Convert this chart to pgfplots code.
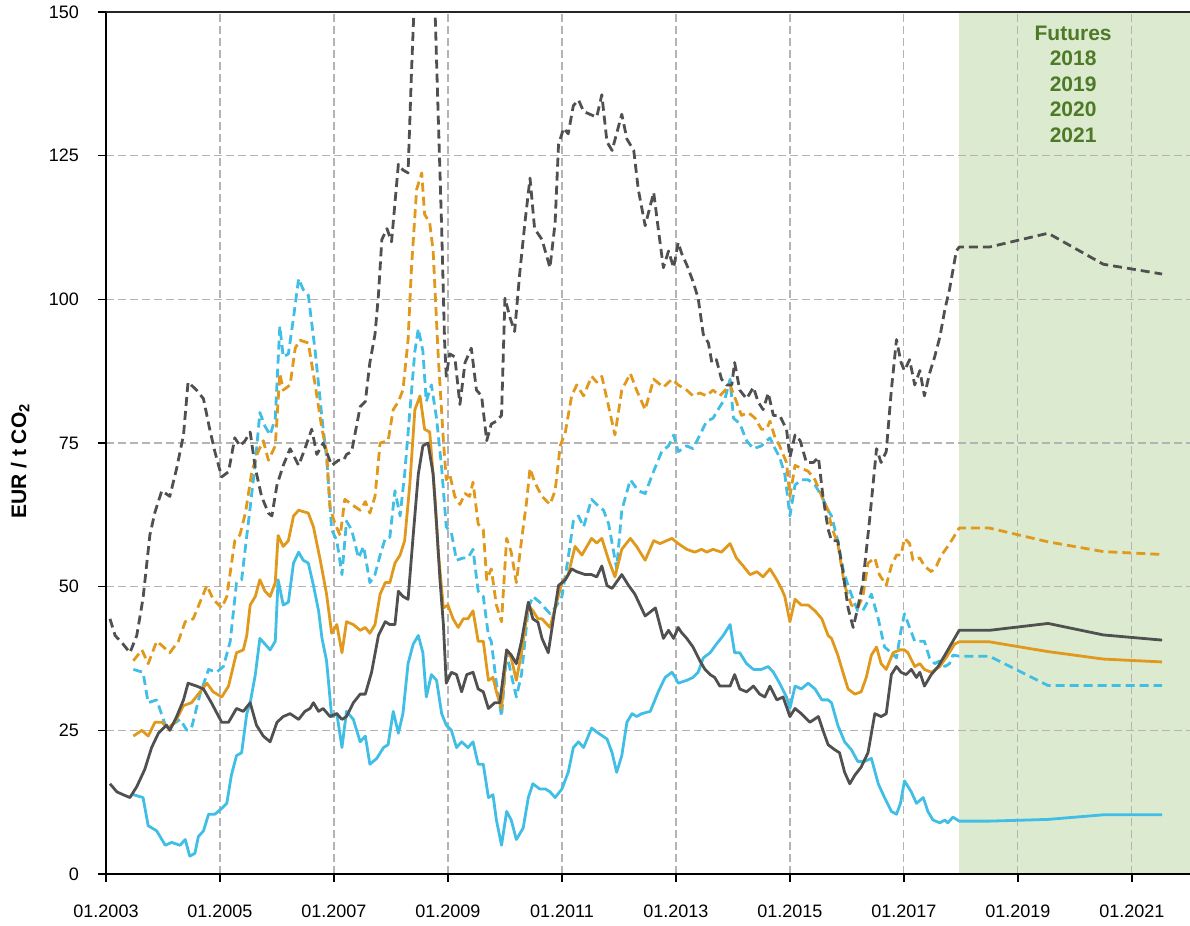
\documentclass[border=0pt]{standalone}
\usepackage{fontspec}
\setmainfont{Liberation Sans}
\usepackage{pgfplots}
\pgfplotsset{compat=1.18}
\definecolor{cgray}{HTML}{505050}
\definecolor{corange}{HTML}{E0991C}
\definecolor{ccyan}{HTML}{40BEE6}
\definecolor{band}{HTML}{DCEBD0}
\definecolor{ftext}{HTML}{4E7A27}
\definecolor{gridc}{HTML}{B4B4B4}
\begin{document}
\begin{tikzpicture}
\begin{axis}[
 set layers,
 clip mode=individual,
 scale only axis,
 width=542pt, height=431pt,
 xmin=2003, xmax=2022.02, ymin=0, ymax=150,
 axis x line*=bottom, axis y line*=left,
 axis line style={line width=1pt, black},
 xtick={2003,2005,...,2021},
 xticklabels={01.2003,01.2005,01.2007,01.2009,01.2011,01.2013,01.2015,01.2017,01.2019,01.2021},
 ytick={0,25,...,150},
 tick align=outside,
 major tick length=4pt,
 tick style={black, line width=0.8pt},
 grid=major,
 major grid style={gridc, line width=0.6pt, dash pattern=on 4pt off 2pt},
 /pgf/number format/assume math mode=true,
 ticklabel style={font=\fontsize{9}{10}\selectfont},
 yticklabel style={xshift=-6pt},
 xticklabel style={yshift=-8pt},
 ylabel={EUR / t CO\textsubscript{2}},
 ylabel style={at={(axis description cs:-0.0793,0.479)}, anchor=center, rotate=0, font=\bfseries\fontsize{10.5}{12}\selectfont},
 every axis plot/.append style={line width=1.4pt, line join=round},
 dsh/.style={dash pattern=on 4.5pt off 2.5pt},
]
\addplot[fill=band, draw=none, on layer=axis background, line width=0pt] coordinates {(2017.965,150)(2022.02,150)} \closedcycle;

% cyan solid
\addplot[ccyan] coordinates {(2003.48,13.8)(2003.65,13.3)(2003.74,8.4)(2003.89,7.5)(2004.04,5)(2004.15,5.5)(2004.30,5)(2004.39,6)(2004.47,3.1)(2004.56,3.6)(2004.62,6.5)(2004.71,7.5)(2004.80,10.4)(2004.91,10.4)(2005.03,11.4)(2005.12,12.3)(2005.20,17.2)(2005.29,20.6)(2005.38,21.1)(2005.47,27.9)(2005.53,29.8)(2005.62,34.7)(2005.70,41)(2005.79,40)(2005.88,39)(2005.97,40.5)(2006.02,51.2)(2006.11,46.8)(2006.20,47.3)(2006.29,54.1)(2006.38,56)(2006.46,54.6)(2006.55,54.1)(2006.64,50.2)(2006.73,45.8)(2006.79,41)(2006.87,37.1)(2006.96,27.4)(2007.05,27.9)(2007.14,22)(2007.22,28.3)(2007.34,26.9)(2007.46,23)(2007.55,24)(2007.63,19.1)(2007.75,20.1)(2007.87,22)(2007.95,22.5)(2008.04,28.3)(2008.13,24.5)(2008.21,27.9)(2008.30,36.6)(2008.39,40)(2008.48,41.5)(2008.56,38.5)(2008.62,30.8)(2008.71,34.7)(2008.80,33.7)(2008.89,27.9)(2008.97,25.9)(2009.06,25)(2009.15,22)(2009.24,23)(2009.35,22)(2009.44,23)(2009.53,19.1)(2009.62,19.1)(2009.71,13.3)(2009.79,13.8)(2009.85,9.4)(2009.94,5)(2010.03,10.9)(2010.11,9.4)(2010.20,6)(2010.32,8)(2010.41,13.3)(2010.49,15.7)(2010.61,14.8)(2010.71,14.8)(2010.79,14.3)(2010.88,13.3)(2011.00,14.8)(2011.11,17.7)(2011.20,22)(2011.29,23)(2011.38,22)(2011.52,25.4)(2011.64,24.5)(2011.79,23.5)(2011.88,21.1)(2011.96,17.7)(2012.05,20.6)(2012.14,26.4)(2012.23,27.9)(2012.31,27.4)(2012.40,27.9)(2012.55,28.3)(2012.69,31.7)(2012.81,34.2)(2012.93,35.1)(2012.99,34.2)(2013.04,33.2)(2013.19,33.7)(2013.30,34.2)(2013.39,35.1)(2013.48,37.6)(2013.60,38.5)(2013.71,40)(2013.83,41.5)(2013.95,43.4)(2014.03,38.5)(2014.12,38.5)(2014.24,36.6)(2014.36,35.6)(2014.50,35.6)(2014.62,36.1)(2014.71,35.1)(2014.82,33.2)(2014.94,30.8)(2015.00,28.8)(2015.09,32.7)(2015.20,32.2)(2015.32,33.2)(2015.44,32.2)(2015.56,30.3)(2015.67,30.3)(2015.73,29.8)(2015.84,25.9)(2015.96,23)(2016.08,21.6)(2016.19,19.6)(2016.31,19.6)(2016.43,20.1)(2016.55,15.7)(2016.66,13.3)(2016.78,10.9)(2016.87,10.4)(2016.94,12.3)(2017.01,16.2)(2017.13,14.3)(2017.22,12.3)(2017.34,13.3)(2017.42,10.9)(2017.51,9.4)(2017.63,8.9)(2017.72,9.4)(2017.77,8.9)(2017.86,9.9)(2017.97,9.2)(2018.5,9.2)(2019.53,9.5)(2020.5,10.3)(2021.53,10.3)};

% cyan dashed
\addplot[ccyan, dsh] coordinates {(2003.48,35.6)(2003.65,35.1)(2003.74,29.8)(2003.89,30.3)(2004.04,25.9)(2004.15,25.9)(2004.30,26.9)(2004.42,25)(2004.50,25.4)(2004.65,31.3)(2004.80,35.6)(2004.94,35.1)(2005.06,36.1)(2005.18,40.5)(2005.29,50.7)(2005.38,51.2)(2005.46,58)(2005.53,63.8)(2005.62,71.6)(2005.70,80.3)(2005.79,77.9)(2005.88,76.4)(2005.97,79.3)(2006.05,95.3)(2006.11,90)(2006.20,90.5)(2006.29,96.8)(2006.38,103.6)(2006.46,101.7)(2006.55,100.7)(2006.67,91)(2006.79,79.3)(2006.87,72.5)(2006.96,59.9)(2007.05,58)(2007.14,52.1)(2007.22,61.4)(2007.31,59.9)(2007.43,55)(2007.52,57)(2007.63,50.7)(2007.72,52.1)(2007.81,55.5)(2007.90,58.4)(2007.98,58.6)(2008.07,66.7)(2008.16,62.3)(2008.24,69.6)(2008.33,80.3)(2008.42,91)(2008.48,94.9)(2008.56,91)(2008.62,82.2)(2008.71,85.1)(2008.80,79.3)(2008.89,70.6)(2008.97,60.4)(2009.06,59.4)(2009.15,54.6)(2009.27,55)(2009.35,55)(2009.44,56.5)(2009.53,49.2)(2009.62,48.3)(2009.71,41.5)(2009.76,40.5)(2009.85,33.2)(2009.94,27.4)(2010.03,38.5)(2010.11,34.7)(2010.20,30.8)(2010.29,34.7)(2010.41,46.3)(2010.49,48.3)(2010.61,47.3)(2010.79,45.3)(2010.88,46.3)(2011.00,48.3)(2011.11,55)(2011.20,61.4)(2011.29,62.3)(2011.38,60.4)(2011.52,65.2)(2011.61,64.3)(2011.73,63.3)(2011.82,60.9)(2011.96,53.1)(2012.05,63.3)(2012.20,68.6)(2012.34,66.7)(2012.46,66.2)(2012.61,70.1)(2012.75,73.5)(2012.87,74.5)(2012.96,76.4)(2013.04,73.5)(2013.19,74.5)(2013.30,74)(2013.42,76.4)(2013.54,78.8)(2013.65,79.3)(2013.77,81.3)(2013.86,82.7)(2013.95,86.1)(2014.01,79.3)(2014.12,78.4)(2014.24,75.4)(2014.36,74)(2014.50,74.5)(2014.65,75.9)(2014.74,74)(2014.82,72.5)(2014.91,69.6)(2015.00,62.3)(2015.09,67.7)(2015.20,68.6)(2015.32,68.6)(2015.44,67.7)(2015.56,65.7)(2015.67,63.3)(2015.73,62.3)(2015.84,58)(2015.93,53.1)(2016.02,50.2)(2016.11,47.8)(2016.19,45.8)(2016.28,45.8)(2016.43,48.7)(2016.55,44.4)(2016.66,39.5)(2016.78,38.5)(2016.87,37.6)(2016.95,42.4)(2017.01,45.3)(2017.10,42.9)(2017.19,40.5)(2017.28,40.5)(2017.36,40.5)(2017.45,37.6)(2017.54,36.6)(2017.63,37.1)(2017.72,36.1)(2017.80,36.6)(2017.86,38.1)(2017.97,37.9)(2018.5,37.9)(2019.53,32.8)(2020.5,32.8)(2021.53,32.8)};

% orange solid
\addplot[corange] coordinates {(2003.48,24)(2003.63,25)(2003.74,24)(2003.86,26.4)(2003.98,26.4)(2004.09,25.4)(2004.21,26.4)(2004.36,29.3)(2004.50,29.8)(2004.62,31.3)(2004.77,33.2)(2004.88,31.7)(2005.03,30.8)(2005.15,32.7)(2005.29,38.5)(2005.41,39)(2005.47,41.5)(2005.53,46.8)(2005.62,48.3)(2005.70,51.2)(2005.79,49.2)(2005.88,48.3)(2005.97,50.7)(2006.02,58.9)(2006.11,57)(2006.20,58)(2006.29,62.3)(2006.38,63.3)(2006.55,62.8)(2006.64,60.4)(2006.76,54.6)(2006.87,48.7)(2006.96,41.9)(2007.05,43.4)(2007.14,38.5)(2007.22,43.9)(2007.34,43.4)(2007.46,42.4)(2007.55,42.9)(2007.63,41.9)(2007.72,43.4)(2007.81,48.7)(2007.90,50.7)(2007.98,50.7)(2008.07,54.1)(2008.16,55.5)(2008.24,58)(2008.33,67.7)(2008.42,80.8)(2008.51,83.2)(2008.59,77.4)(2008.68,76.9)(2008.77,65.7)(2008.83,56)(2008.92,46.3)(2009.00,46.8)(2009.09,44.4)(2009.18,42.9)(2009.27,44.4)(2009.35,44.4)(2009.44,45.8)(2009.53,40.5)(2009.62,40.5)(2009.71,33.7)(2009.79,34.2)(2009.85,31.7)(2009.94,28.8)(2010.03,39)(2010.11,37.6)(2010.20,33.7)(2010.29,38.5)(2010.41,46.8)(2010.49,45.8)(2010.58,44.4)(2010.65,44.4)(2010.79,42.9)(2010.88,46.3)(2011.00,50.7)(2011.11,52.1)(2011.23,57)(2011.35,55.5)(2011.52,58.4)(2011.61,57.6)(2011.70,58.4)(2011.82,54.6)(2011.93,51.7)(2012.05,56.5)(2012.20,58.4)(2012.31,57)(2012.46,54.6)(2012.61,58)(2012.72,57.5)(2012.93,58.4)(2013.04,57.5)(2013.19,56.5)(2013.33,56)(2013.45,56.5)(2013.54,56)(2013.65,56.5)(2013.80,56)(2013.95,57.5)(2014.06,55)(2014.18,53.6)(2014.30,52.1)(2014.42,52.6)(2014.53,51.7)(2014.65,53.1)(2014.77,51.2)(2014.85,49.7)(2014.91,48.3)(2015.00,43.9)(2015.09,47.8)(2015.20,46.8)(2015.32,46.8)(2015.44,45.8)(2015.56,44.4)(2015.67,41.5)(2015.73,41)(2015.84,38.1)(2015.93,35.1)(2016.02,32.2)(2016.14,31.3)(2016.25,31.7)(2016.34,34.2)(2016.43,38.1)(2016.52,39.5)(2016.60,36.6)(2016.69,35.6)(2016.81,38.5)(2016.93,39)(2017.01,39)(2017.07,38.5)(2017.19,36.1)(2017.28,36.6)(2017.36,35.6)(2017.48,35.1)(2017.63,36.1)(2017.77,38.1)(2017.89,40)(2017.97,40.4)(2018.5,40.4)(2019.53,38.7)(2020.5,37.4)(2021.53,36.9)};

% orange dashed
\addplot[corange, dsh] coordinates {(2003.48,37.1)(2003.63,39)(2003.74,36.6)(2003.89,40.5)(2004.01,39.5)(2004.12,38.5)(2004.27,40.5)(2004.39,43.9)(2004.53,44.4)(2004.65,47.3)(2004.77,50.2)(2004.88,47.8)(2005.03,46.3)(2005.12,48.3)(2005.26,58)(2005.35,59)(2005.45,63)(2005.56,70.1)(2005.67,73.5)(2005.76,75.4)(2005.85,72)(2005.97,74.5)(2006.05,87.1)(2006.11,84.2)(2006.23,85.1)(2006.32,91.5)(2006.40,92.9)(2006.55,92.4)(2006.67,85.1)(2006.79,77.4)(2006.87,73.5)(2006.93,63.8)(2007.02,60.9)(2007.11,58.9)(2007.19,65.2)(2007.31,64.3)(2007.46,63.3)(2007.55,64.8)(2007.63,62.8)(2007.72,65.7)(2007.81,75)(2007.95,75.4)(2008.04,80.8)(2008.13,82.2)(2008.21,84.2)(2008.30,92.9)(2008.36,105.5)(2008.45,119.1)(2008.54,122)(2008.59,114.8)(2008.68,113.3)(2008.74,108.4)(2008.83,90)(2008.92,75.4)(2008.97,68.6)(2009.03,69.6)(2009.12,65.7)(2009.21,64.3)(2009.30,66.2)(2009.38,65.7)(2009.44,68.2)(2009.53,60.9)(2009.62,59.9)(2009.68,51.2)(2009.76,53.1)(2009.85,46.8)(2009.94,43.9)(2010.03,58.4)(2010.11,56)(2010.20,50.7)(2010.29,58)(2010.38,64.8)(2010.44,70.6)(2010.52,68.2)(2010.65,65.7)(2010.79,64.3)(2010.88,66.7)(2010.97,74.5)(2011.06,76.9)(2011.17,83.2)(2011.26,85.1)(2011.38,83.2)(2011.52,86.6)(2011.61,85.6)(2011.70,86.6)(2011.82,81.3)(2011.93,76.4)(2012.05,84.2)(2012.20,87.1)(2012.31,84.2)(2012.46,80.8)(2012.61,86.1)(2012.78,84.7)(2012.93,86.1)(2013.04,85.1)(2013.19,84.2)(2013.30,83.2)(2013.42,83.7)(2013.54,83.2)(2013.65,84.2)(2013.77,83.2)(2013.95,85.1)(2014.06,82.2)(2014.15,79.8)(2014.27,80.3)(2014.39,79.3)(2014.50,77.4)(2014.59,77.4)(2014.65,78.8)(2014.74,75.9)(2014.82,74.5)(2014.94,71.6)(2015.00,65.7)(2015.09,71.1)(2015.20,70.6)(2015.32,70.1)(2015.44,68.6)(2015.56,65.7)(2015.67,63.3)(2015.73,60.4)(2015.84,57.5)(2015.96,50.2)(2016.08,46.8)(2016.19,46.3)(2016.28,48.3)(2016.37,54.1)(2016.49,55)(2016.57,52.1)(2016.69,50.2)(2016.78,53.6)(2016.87,55.5)(2016.95,55.5)(2017.01,58.4)(2017.10,57.5)(2017.16,54.6)(2017.28,55)(2017.36,53.6)(2017.48,52.6)(2017.57,53.6)(2017.66,55.5)(2017.77,57)(2017.86,58.4)(2017.97,60.2)(2018.5,60.2)(2019.53,57.8)(2020.5,56.1)(2021.53,55.6)};

% gray solid
\addplot[cgray] coordinates {(2003.07,15.7)(2003.19,14.3)(2003.30,13.8)(2003.42,13.3)(2003.54,15.2)(2003.68,18.2)(2003.80,22)(2003.92,24.5)(2004.06,25.9)(2004.12,25)(2004.24,27.4)(2004.36,30.3)(2004.44,33.2)(2004.59,32.7)(2004.71,32.2)(2004.85,29.8)(2005.03,26.4)(2005.15,26.4)(2005.29,28.8)(2005.41,28.3)(2005.53,29.8)(2005.64,25.9)(2005.76,24)(2005.88,23)(2006.00,26.4)(2006.11,27.4)(2006.23,27.9)(2006.38,26.9)(2006.49,28.3)(2006.58,28.8)(2006.64,29.8)(2006.73,28.3)(2006.81,28.8)(2006.93,27.4)(2007.05,27.9)(2007.14,26.9)(2007.22,27.4)(2007.34,29.8)(2007.46,31.3)(2007.55,31.3)(2007.66,35.1)(2007.78,41.5)(2007.90,43.9)(2007.98,43.4)(2008.07,43.4)(2008.13,49.2)(2008.21,48.3)(2008.30,47.8)(2008.39,58.9)(2008.48,69.6)(2008.56,74.5)(2008.65,75)(2008.74,69.6)(2008.80,60.9)(2008.86,51.2)(2008.92,43.4)(2008.97,33.2)(2009.06,35.1)(2009.15,34.7)(2009.24,31.7)(2009.33,34.7)(2009.44,35.1)(2009.53,32.2)(2009.62,31.7)(2009.71,28.8)(2009.82,29.8)(2009.91,29.8)(2010.03,39)(2010.11,38.1)(2010.20,36.6)(2010.29,40.5)(2010.41,47.3)(2010.49,44.4)(2010.58,43.8)(2010.65,41)(2010.76,38.5)(2010.85,44.4)(2010.94,50.2)(2011.06,51.2)(2011.17,53.1)(2011.26,52.6)(2011.41,52.1)(2011.52,52.1)(2011.61,51.7)(2011.70,53.6)(2011.79,50.2)(2011.88,49.7)(2012.05,52.1)(2012.17,50.2)(2012.28,48.7)(2012.46,44.9)(2012.64,46.3)(2012.78,41)(2012.87,42.4)(2012.96,41)(2013.04,42.9)(2013.10,42)(2013.19,41)(2013.30,39.5)(2013.42,37.1)(2013.51,35.6)(2013.60,34.7)(2013.68,34.2)(2013.77,32.7)(2013.86,32.7)(2013.95,32.7)(2014.03,34.7)(2014.12,32.2)(2014.24,31.7)(2014.36,32.7)(2014.47,31.3)(2014.56,30.8)(2014.65,32.7)(2014.77,30.3)(2014.88,30.8)(2015.00,27.4)(2015.09,28.8)(2015.20,27.9)(2015.35,26.4)(2015.50,27.4)(2015.58,25)(2015.67,22.5)(2015.79,21.6)(2015.87,21.1)(2015.96,17.7)(2016.05,15.7)(2016.14,17.2)(2016.25,18.6)(2016.37,21.1)(2016.49,27.9)(2016.60,27.4)(2016.69,27.9)(2016.78,34.7)(2016.87,36.1)(2016.95,35.1)(2017.04,34.7)(2017.13,35.6)(2017.22,34.2)(2017.28,35.1)(2017.36,32.7)(2017.48,34.7)(2017.60,36.1)(2017.72,38.1)(2017.83,40)(2017.97,42.4)(2018.5,42.4)(2019.53,43.6)(2020.5,41.6)(2021.53,40.7)};

% gray dashed
\addplot[cgray, dsh] coordinates {(2003.07,44.4)(2003.16,41.5)(2003.30,40)(2003.42,38.5)(2003.54,41.5)(2003.65,48)(2003.77,59)(2003.86,63)(2003.98,66.7)(2004.12,65.7)(2004.24,70.6)(2004.36,76.4)(2004.44,85.6)(2004.59,84.2)(2004.71,82.7)(2004.82,77.4)(2004.91,73.5)(2005.03,69.1)(2005.15,70)(2005.26,75.9)(2005.35,74.5)(2005.44,75.4)(2005.53,76.9)(2005.62,70.6)(2005.73,65.7)(2005.85,62.8)(2005.91,62.3)(2006.00,67.7)(2006.11,71.1)(2006.23,74)(2006.38,71.1)(2006.49,74)(2006.61,77.4)(2006.70,73)(2006.81,75)(2006.96,71.1)(2007.08,72)(2007.17,72)(2007.22,73)(2007.31,73.5)(2007.46,81.3)(2007.55,82.2)(2007.63,89)(2007.72,93.9)(2007.78,100.7)(2007.84,110.4)(2007.93,112.3)(2008.01,110)(2008.13,123.5)(2008.21,122.5)(2008.30,122)(2008.36,139.5)(2008.45,162)(2008.60,170)(2008.75,158)(2008.83,131.7)(2008.89,112.3)(2008.94,93)(2008.97,86.6)(2009.03,90.5)(2009.12,90)(2009.21,81.7)(2009.30,89)(2009.41,91.5)(2009.50,84.2)(2009.59,83.2)(2009.68,75.4)(2009.76,78.3)(2009.85,78.8)(2009.94,79.8)(2010.00,100.2)(2010.09,96.8)(2010.17,94.4)(2010.26,104.6)(2010.35,113.3)(2010.44,121.1)(2010.52,112.3)(2010.65,110.4)(2010.79,105.5)(2010.88,113.3)(2010.94,126.9)(2011.03,129.8)(2011.11,128.8)(2011.20,133.7)(2011.29,134.7)(2011.38,132.7)(2011.49,132.2)(2011.61,131.7)(2011.70,135.6)(2011.79,127.4)(2011.88,125.9)(2012.05,132.2)(2012.14,127.9)(2012.26,125.9)(2012.34,119.1)(2012.46,112.8)(2012.61,118.6)(2012.69,112.3)(2012.78,105.5)(2012.87,108.4)(2012.96,105.5)(2013.04,109.9)(2013.10,108)(2013.19,106)(2013.30,103.1)(2013.39,100.2)(2013.48,93.9)(2013.57,92.4)(2013.63,89)(2013.71,89.5)(2013.80,86.1)(2013.89,85.1)(2013.98,85.1)(2014.03,89)(2014.12,84.2)(2014.24,82.7)(2014.36,84.7)(2014.44,82.2)(2014.53,80.8)(2014.62,83.7)(2014.71,79.8)(2014.82,79.8)(2014.94,77.4)(2015.00,72.5)(2015.09,76.4)(2015.18,75.4)(2015.29,71.6)(2015.41,71.6)(2015.50,72.5)(2015.58,65.7)(2015.67,60)(2015.73,58)(2015.84,58)(2015.93,52.6)(2016.02,46.3)(2016.11,42.9)(2016.19,46.3)(2016.28,50.7)(2016.40,61.8)(2016.52,74)(2016.60,71.6)(2016.69,73.5)(2016.78,84.2)(2016.87,93)(2016.95,89)(2017.01,87.6)(2017.10,89.5)(2017.19,85.1)(2017.28,87.6)(2017.36,83.2)(2017.45,87.1)(2017.54,90)(2017.63,93.4)(2017.72,98.3)(2017.80,101.7)(2017.92,108.4)(2017.97,109.1)(2018.5,109.1)(2019.53,111.5)(2020.5,106.1)(2021.53,104.4)};

\draw[line width=0.6pt, black!85] (rel axis cs:0,1) -- (rel axis cs:1,1);
\node[align=center, anchor=north, inner sep=0pt, text=ftext, font=\bfseries\fontsize{10.5}{12.75}\selectfont] at (axis cs:2019.97,147.7) {Futures\\2018\\2019\\2020\\2021};
\end{axis}
\pgfresetboundingbox
\path (-53pt,-26pt) rectangle (542pt,437pt);
\end{tikzpicture}
\end{document}
